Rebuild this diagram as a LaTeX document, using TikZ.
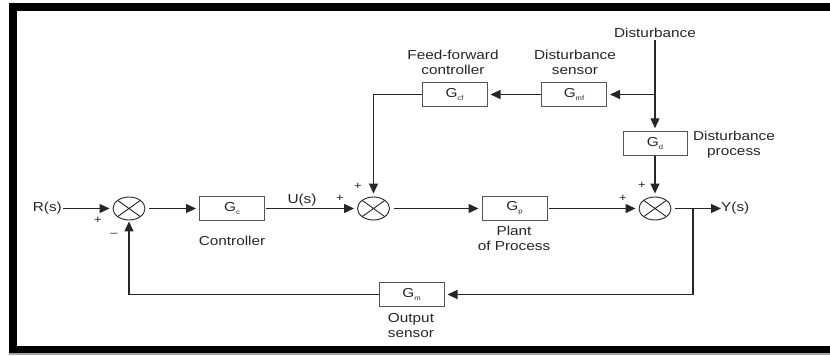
\documentclass[tikz,border=0pt]{standalone}
\usepackage{fontspec}
\setmainfont{Liberation Sans}[FakeStretch=1.18]
\usetikzlibrary{arrows.meta,shapes.geometric}
\definecolor{ink}{HTML}{262626}
\definecolor{boxline}{HTML}{555555}
\newcommand{\Gsub}[1]{G\raisebox{-0.45ex}{\fontsize{6.5}{7}\selectfont #1}}
\tikzset{
  blk/.style={draw=boxline, line width=1pt, minimum width=65pt, minimum height=23.5pt, inner sep=0pt, text=ink, font=\fontsize{13}{15}\selectfont},
  sumnode/.style={ellipse, draw=ink, line width=0.9pt, minimum width=32pt, minimum height=23pt, inner sep=0pt,
    path picture={\draw[ink, line width=0.9pt] (path picture bounding box.north west) -- (path picture bounding box.south east)
      (path picture bounding box.north east) -- (path picture bounding box.south west);}},
  lbl/.style={text=ink, inner sep=0pt, align=center, font=\fontsize{13}{15}\selectfont},
  sgn/.style={text=ink, inner sep=0pt, font=\fontsize{11}{12}\selectfont},
  arr/.style={draw=ink, line width=1.2pt, -{Triangle[length=10pt,width=9pt]}, shorten >=3pt},
}
\begin{document}
\begin{tikzpicture}[x=1pt,y=-1pt]
\useasboundingbox (0,0) rectangle (830,356);
% frame
\fill[black] (9,3) rectangle (830,11);
\fill[black] (9,3) rectangle (17,353);
\fill[black] (9,346) rectangle (830,353);
\fill[black!35] (9,353) rectangle (830,355);

% sums
\node[sumnode] (s1) at (129,208.5) {};
\node[sumnode] (s2) at (373.5,208.5) {};
\node[sumnode] (s3) at (655,208.5) {};

% blocks
\node[blk] (Gc)  at (232,208.5) {\Gsub{c}};
\node[blk] (Gp)  at (514.5,208.5) {\Gsub{p}};
\node[blk] (Gm)  at (411.5,294.5) {\Gsub{m}};
\node[blk] (Gcf) at (454.5,94.5) {\Gsub{cf}};
\node[blk] (Gmf) at (574,94.5) {\Gsub{mf}};
\node[blk, minimum width=64pt] (Gd) at (655,143.5) {\Gsub{d}};

% signals
\node[lbl, anchor=east] (Rs) at (62,208.5) {R(s)};
\node[lbl, anchor=west] (Ys) at (721,208.5) {Y(s)};
\node[lbl] (Us) at (302,200) {U(s)};
\node[lbl] (Dist) at (655,33) {Disturbance};

% labels
\node[lbl] (lC) at (232,241) {Controller};
\node[lbl] (lP) at (514,238.5) {Plant\\of Process};
\node[lbl] (lO) at (411,325.5) {Output\\sensor};
\node[lbl] (lF) at (453,62.5) {Feed-forward\\controller};
\node[lbl] (lS) at (575,62.5) {Disturbance\\sensor};
\node[lbl] (lD) at (734,144.5) {Disturbance\\process};

% signs
\node[sgn] (p1) at (98,220) {+};
\node[sgn] (m1) at (114,235) {\textendash};
\node[sgn] (p2) at (340,198) {+};
\node[sgn] (p3) at (358,186) {+};
\node[sgn] (p4) at (623,198) {+};
\node[sgn] (p5) at (642,185) {+};

% branch points
\coordinate (b1) at (693,208.5);
\coordinate (b2) at (655,94.5);

% connectors
\draw[arr] (Rs.east) ++(1,0) -- (s1.west);
\draw[arr] (s1.east) ++(4,0) -- (Gc.west);
\draw[arr] (Gc.east) ++(1,0) -- (s2.west);
\draw[arr] (s2.east) ++(4,0) -- (Gp.west);
\draw[arr] (Gp.east) ++(1,0) -- (s3.west);
\draw[arr, shorten >=0pt] (s3.east) ++(4,0) -- (Ys.west);
\draw[arr] (b1) |- (Gm.east);
\draw[arr, shorten >=1pt] (Gm.west) -| (s1.south);
\draw[arr] (Dist.south) ++(0,2) -- (Gd.north);
\draw[arr] (b2) -- (Gmf.east);
\draw[arr] (Gmf.west) -- (Gcf.east);
\draw[arr] (Gcf.west) -| (s2.north);
\draw[arr] (Gd.south) -- (s3.north);
\end{tikzpicture}
\end{document}
